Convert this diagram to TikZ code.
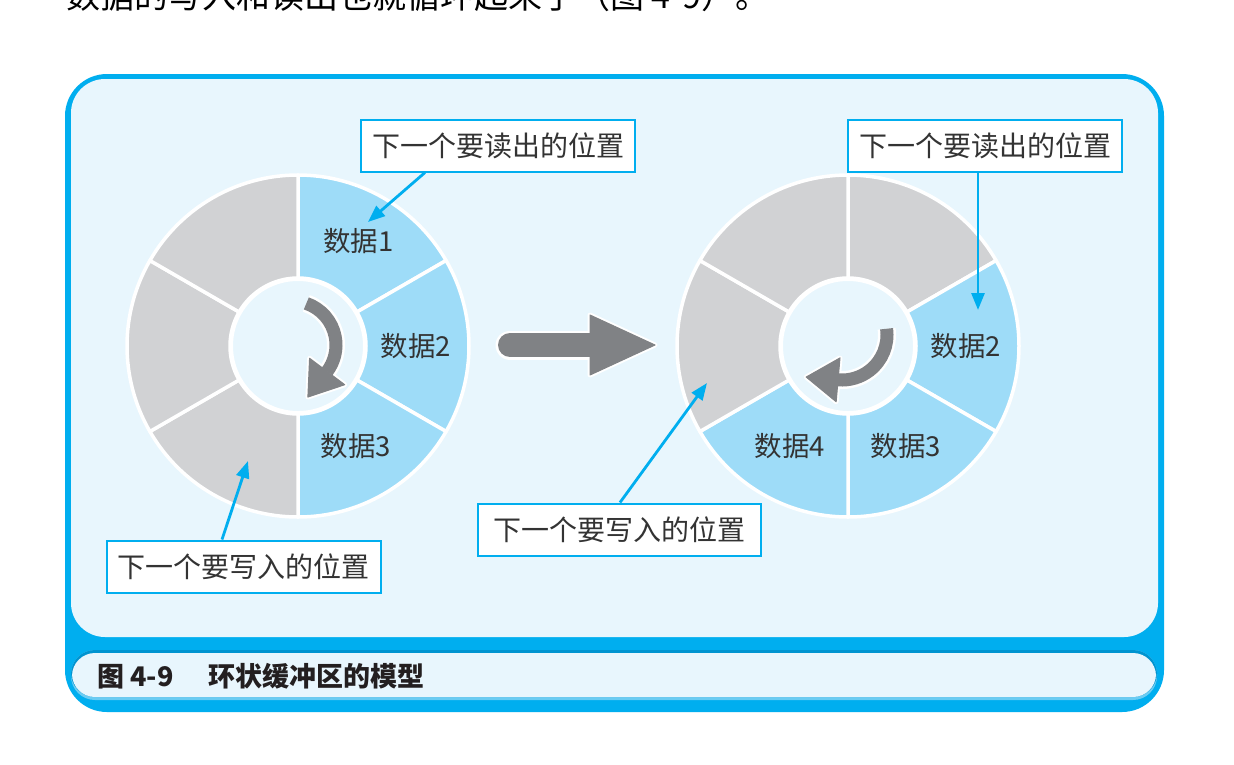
\documentclass[tikz,border=0pt]{standalone}
\usepackage{fontspec}
\setmainfont{Noto Sans CJK SC}
\usetikzlibrary{arrows.meta,calc}
\definecolor{frameblue}{HTML}{00AEEF}
\definecolor{panel}{HTML}{E8F6FD}
\definecolor{segblue}{HTML}{9EDCF8}
\definecolor{seggray}{HTML}{D1D2D4}
\definecolor{arrgray}{HTML}{808285}
\definecolor{txt}{HTML}{333333}
\definecolor{capt}{HTML}{231F20}
\definecolor{capdark}{HTML}{0094D0}
\definecolor{caplight}{HTML}{6ACCF3}
\begin{document}
\begin{tikzpicture}[x=1pt,y=1pt,
  seg/.style={draw=white,line width=3.5pt,line join=round},
  lbl/.style={font=\fontsize{27.5}{30}\selectfont,text=txt,inner sep=0pt},
  callout/.style={draw=frameblue,line width=2pt,fill=white,font=\fontsize{28}{32}\selectfont,text=txt,inner xsep=11pt,inner ysep=0pt,minimum height=52pt},
  pointer/.style={draw=frameblue,line width=2.8pt,-{Triangle[length=17pt,width=13pt]}},
  grayout/.style={white,line width=18pt},
  grayshaft/.style={arrgray,line width=13pt},
]
\useasboundingbox (0,0) rectangle (1234,-764);
\fill[white] (0,0) rectangle (1234,-764);
% cut-off intro line
\begin{scope}
  \clip (0,0) rectangle (1234,-764);
  \node[anchor=base west,inner sep=0pt,font=\fontsize{34}{36}\selectfont] (intro) at (66,-8) {数据的写入和读出也就循环起来了（图 4-9）。};
\end{scope}
% frame
\fill[frameblue,rounded corners=42pt] (65,-74) rectangle (1164,-712);
\fill[panel,rounded corners=34pt] (71,-79) rectangle (1158,-637);
\fill[caplight,rounded corners=24pt] (71,-650) rectangle (1157,-700);
\fill[capdark,rounded corners=24pt] (71,-650) rectangle (1157,-697);
\fill[panel,rounded corners=23pt] (72,-653) rectangle (1156,-697);
\node[anchor=west,inner sep=0pt,font=\bfseries\fontsize{27}{30}\selectfont,text=capt] (cap) at (97,-676) {图 4-9\hspace{1.3em}环状缓冲区的模型};
% rings
\coordinate (L) at (298,-346);
\coordinate (R) at (848,-346);
\foreach \a/\b/\c in {90/30/segblue,30/-30/segblue,-30/-90/segblue,-90/-150/seggray,-150/-210/seggray,-210/-270/seggray}{
  \filldraw[seg,fill=\c] ($(L)+(\a:171)$) arc[start angle=\a,end angle=\b,radius=171] -- ($(L)+(\b:68)$) arc[start angle=\b,end angle=\a,radius=68] -- cycle;
}
\foreach \a/\b/\c in {90/30/seggray,30/-30/segblue,-30/-90/segblue,-90/-150/segblue,-150/-210/seggray,-210/-270/seggray}{
  \filldraw[seg,fill=\c] ($(R)+(\a:171)$) arc[start angle=\a,end angle=\b,radius=171] -- ($(R)+(\b:68)$) arc[start angle=\b,end angle=\a,radius=68] -- cycle;
}
\filldraw[fill=panel,draw=white,line width=4pt] (L) circle (67);
\filldraw[fill=panel,draw=white,line width=4pt] (R) circle (67);
\node[lbl] (d1) at ($(L)+(60:121)$) {数据1};
\node[lbl] (d2) at ($(L)+(0:118)$) {数据2};
\node[lbl] (d3) at ($(L)+(-60:116)$) {数据3};
\node[lbl] (e2) at ($(R)+(0:118)$) {数据2};
\node[lbl] (e3) at ($(R)+(-60:116)$) {数据3};
\node[lbl] (e4) at ($(R)+(-120:116)$) {数据4};
% left inner curved arrow
\coordinate (la) at (292,-345);
\draw[grayout] ($(la)+(71:44)$) arc[start angle=71,end angle=-37,radius=44];
\begin{scope}[shift={($(la)+(-37:44)$)},rotate=-127]
  \filldraw[white,line width=5pt,line join=round] (0,22) -- (32,0) -- (0,-22) -- cycle;
\end{scope}
\draw[grayshaft] ($(la)+(71:44)$) arc[start angle=71,end angle=-37,radius=44];
\begin{scope}[shift={($(la)+(-37:44)$)},rotate=-127]
  \filldraw[arrgray,line width=1pt,line join=round] (0,22) -- (32,0) -- (0,-22) -- cycle;
\end{scope}
% right inner curved arrow
\coordinate (ra) at (842,-335);
\draw[grayout] ($(ra)+(8:45)$) arc[start angle=8,end angle=-95,radius=45];
\begin{scope}[shift={($(ra)+(-95:45)$)},rotate=-185]
  \filldraw[white,line width=5pt,line join=round] (0,22) -- (32,0) -- (0,-22) -- cycle;
\end{scope}
\draw[grayshaft] ($(ra)+(8:45)$) arc[start angle=8,end angle=-95,radius=45];
\begin{scope}[shift={($(ra)+(-95:45)$)},rotate=-185]
  \filldraw[arrgray,line width=1pt,line join=round] (0,22) -- (32,0) -- (0,-22) -- cycle;
\end{scope}
% big arrow
\draw[white,line width=29pt,line cap=round] (510,-345) -- (595,-345);
\filldraw[white,line width=5pt,line join=round] (590,-315) -- (655,-345) -- (590,-375) -- cycle;
\draw[arrgray,line width=24pt,line cap=round] (510,-345) -- (595,-345);
\filldraw[arrgray,line width=1pt,line join=round] (590,-315) -- (655,-345) -- (590,-375) -- cycle;
% callouts
\node[callout] (b1) at (498,-145.5) {下一个要读出的位置};
\node[callout] (b2) at (985,-145.5) {下一个要读出的位置};
\node[callout] (b3) at (243.5,-566.5) {下一个要写入的位置};
\node[callout,minimum width=283pt] (b4) at (619.5,-529.5) {下一个要写入的位置};
\coordinate (t1) at (368,-222);
\coordinate (t2) at (978,-310);
\coordinate (t3) at (248,-461);
\coordinate (t4) at (707,-383);
\draw[pointer] ([xshift=-73pt]b1.south) -- (t1);
\draw[pointer] (b2.south -| t2) -- (t2);
\draw[pointer] ([xshift=-21.5pt]b3.north) -- (t3);
\draw[pointer] ([xshift=0.5pt]b4.north) -- (t4);
\end{tikzpicture}
\end{document}
